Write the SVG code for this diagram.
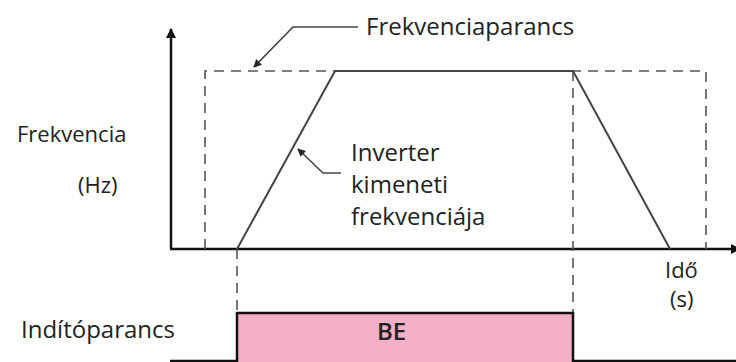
<svg xmlns="http://www.w3.org/2000/svg" width="736" height="362" viewBox="0 0 736 362">
  <style>
    text { font-family: "Open Sans", "Noto Sans", sans-serif; font-size: 22px; fill: #222; }
    .big { font-size: 24px; }
    .axis { stroke: #111; stroke-width: 2.5; fill: none; }
    .dash { stroke: #555; stroke-width: 1.6; stroke-dasharray: 10 7; fill: none; }
    .curve { stroke: #444; stroke-width: 2; fill: none; }
    .lead { stroke: #444; stroke-width: 1.6; fill: none; }
  </style>
  <defs>
    <marker id="ah" viewBox="0 0 10 10" refX="9" refY="5" markerWidth="8" markerHeight="8" orient="auto" markerUnits="userSpaceOnUse">
      <path d="M0,0 L10,5 L0,10 z" fill="#222"/>
    </marker>
    <marker id="axh" viewBox="0 0 10 10" refX="9" refY="5" markerWidth="11" markerHeight="10" orient="auto" markerUnits="userSpaceOnUse">
      <path d="M0,0 L10,5 L0,10 z" fill="#111"/>
    </marker>
  </defs>

  <g id="axes">
    <line class="axis" x1="171" y1="249" x2="171" y2="29" marker-end="url(#axh)"/>
    <line class="axis" x1="170" y1="249" x2="740" y2="249" marker-end="url(#axh)"/>
  </g>

  <g id="command-frame">
    <path class="dash" d="M205,249 V71 H706 V249"/>
    <line class="dash" x1="237" y1="249" x2="237" y2="313"/>
    <line class="dash" x1="573" y1="71" x2="573" y2="313"/>
  </g>

  <g id="output-curve">
    <path class="curve" d="M237,249 L335,71 H573 L670,249"/>
  </g>

  <g id="start-signal">
    <rect x="237" y="313" width="336" height="49" fill="#F4B0C6"/>
    <path class="axis" d="M170,361 H237 V313 H573 V361 H736"/>
    <text x="377" y="340" class="big" font-weight="600">BE</text>
  </g>

  <g id="connectors">
    <path class="lead" d="M358,27 H293 L254,67" marker-end="url(#ah)"/>
    <path class="lead" d="M341,173 H323 L298,149" marker-end="url(#ah)"/>
  </g>

  <g id="labels">
    <text x="366" y="35" class="big" font-size="24.5">Frekvenciaparancs</text>
    <text x="351" y="161" class="big">Inverter</text>
    <text x="351" y="193" class="big">kimeneti</text>
    <text x="351" y="225" class="big">frekvenciája</text>
    <text x="17" y="142">Frekvencia</text>
    <text x="78" y="193">(Hz)</text>
    <text x="665" y="278">Idő</text>
    <text x="670" y="307">(s)</text>
    <text x="21" y="338" class="big" font-size="24.5">Indítóparancs</text>
  </g>
</svg>
